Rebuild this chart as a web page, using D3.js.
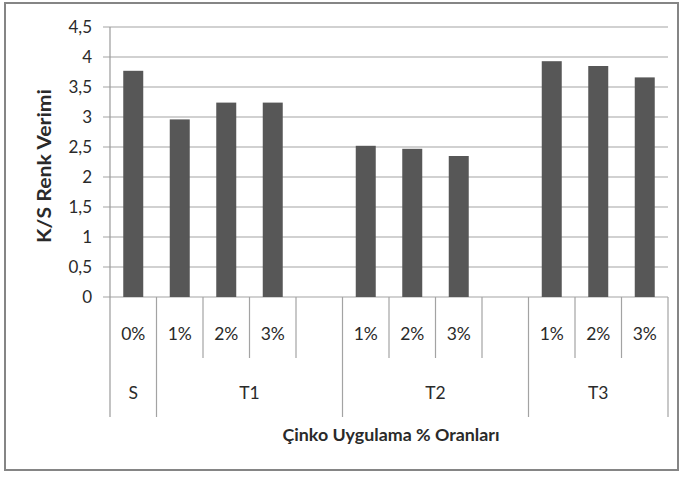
<!DOCTYPE html>
<html>
<head>
<meta charset="utf-8">
<script src="https://cdn.jsdelivr.net/npm/d3@7"></script>
<style>
  html, body { margin: 0; padding: 0; background: #fff; }
  svg { display: block; }
  text { font-family: Lato, "Open Sans", sans-serif; fill: #2a2a2a; }
</style>
</head>
<body>
<svg id="chart" width="682" height="477"></svg>
<script>
// Category slots: zinc rate per treatment group (blank slots separate the groups)
const rates  = ["0%", "1%", "2%", "3%", "", "1%", "2%", "3%", "", "1%", "2%", "3%"];
const groupOf = ["S", "T1", "T1", "T1", "T1", "T2", "T2", "T2", "T2", "T3", "T3", "T3"];
const groups = ["S", "T1", "T2", "T3"];
// K/S colour yield per slot (null = empty spacer slot)
const values = [3.77, 2.96, 3.24, 3.24, null, 2.52, 2.47, 2.35, null, 3.93, 3.85, 3.66];
const yTicks = [0, 0.5, 1, 1.5, 2, 2.5, 3, 3.5, 4, 4.5];
const yTitle = "K/S Renk Verimi";
const xTitle = "Çinko Uygulama % Oranları";

const svg = d3.select("#chart");
const plot = { left: 110, right: 668, top: 27, bottom: 297 };
const rowRateBottom = 358, rowGroupBottom = 417;

// outer chart frame
svg.append("rect")
  .attr("x", 5).attr("y", 3).attr("width", 673).attr("height", 467)
  .attr("fill", "#fff").attr("stroke", "#858585").attr("stroke-width", 2);

const slots = d3.range(rates.length);
const x = d3.scaleBand().domain(slots).range([plot.left, plot.right]).padding(0);
const y = d3.scaleLinear().domain([0, 4.5]).range([plot.bottom, plot.top]);

// horizontal gridlines (with the short tick stub left of the axis)
svg.append("g")
  .selectAll("line").data(yTicks).join("line")
  .attr("x1", plot.left - 7).attr("x2", plot.right)
  .attr("y1", d => y(d)).attr("y2", d => y(d))
  .attr("stroke", "#a3a3a3").attr("stroke-width", 1.2);

// value axis labels
const yAxis = d3.axisLeft(y).tickValues(yTicks).tickSize(0).tickPadding(0)
  .tickFormat(d => d3.format("")(d).replace(".", ","));
const yg = svg.append("g").attr("transform", `translate(${plot.left - 18},0)`).call(yAxis);
yg.select(".domain").remove();
yg.selectAll("text").attr("font-size", 17).attr("fill", "#333").attr("dy", "0.35em")
  .style("font-family", "Lato, sans-serif");

// bars
const barW = x.bandwidth() * 0.43;
svg.append("g")
  .selectAll("rect").data(slots.filter(i => values[i] != null)).join("rect")
  .attr("x", i => x(i) + (x.bandwidth() - barW) / 2)
  .attr("width", barW)
  .attr("y", i => y(values[i]))
  .attr("height", i => y(0) - y(values[i]))
  .attr("fill", "#575757");

// vertical axis line
svg.append("line")
  .attr("x1", plot.left).attr("x2", plot.left)
  .attr("y1", plot.top).attr("y2", rowGroupBottom)
  .attr("stroke", "#9a9a9a").attr("stroke-width", 1.2);

// category dividers: full length at group boundaries, short between rates
const boundaries = d3.range(1, rates.length + 1);
svg.append("g")
  .selectAll("line").data(boundaries).join("line")
  .attr("x1", i => i < rates.length ? x(i) : plot.right)
  .attr("x2", i => i < rates.length ? x(i) : plot.right)
  .attr("y1", plot.bottom)
  .attr("y2", i => (i === rates.length || groupOf[i] !== groupOf[i - 1]) ? rowGroupBottom : rowRateBottom)
  .attr("stroke", "#a3a3a3").attr("stroke-width", 1.2);

// rate labels
svg.append("g")
  .selectAll("text").data(slots.filter(i => rates[i] !== "")).join("text")
  .attr("x", i => x(i) + x.bandwidth() / 2)
  .attr("y", 339.5)
  .attr("text-anchor", "middle")
  .attr("font-size", 17.5)
  .attr("fill", "#333")
  .text(i => rates[i]);

// group labels centred over their slots
svg.append("g")
  .selectAll("text").data(groups).join("text")
  .attr("x", g => {
    const idx = slots.filter(i => groupOf[i] === g);
    return (x(idx[0]) + x(idx[idx.length - 1]) + x.bandwidth()) / 2;
  })
  .attr("y", 399)
  .attr("text-anchor", "middle")
  .attr("font-size", 17.5)
  .attr("fill", "#333")
  .text(g => g);

// axis titles
svg.append("text")
  .attr("transform", `translate(51,166) rotate(-90)`)
  .attr("text-anchor", "middle")
  .attr("font-size", 18).attr("font-weight", "bold")
  .attr("textLength", 154).attr("lengthAdjust", "spacingAndGlyphs")
  .text(yTitle);

svg.append("text")
  .attr("x", 391).attr("y", 441)
  .attr("text-anchor", "middle")
  .attr("font-size", 17).attr("font-weight", "bold")
  .attr("textLength", 217).attr("lengthAdjust", "spacingAndGlyphs")
  .text(xTitle);
</script>
</body>
</html>
